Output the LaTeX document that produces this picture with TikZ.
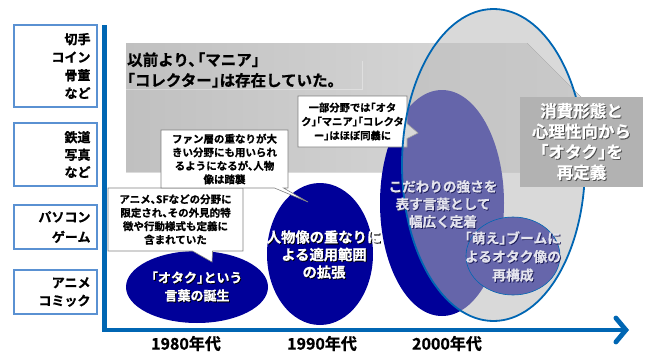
\documentclass[tikz,border=0pt]{standalone}
\usepackage{fontspec}
\setmainfont{Noto Sans CJK JP}[BoldFont={Noto Sans CJK JP Bold}, BoldFeatures={FakeBold=0.8}, RawFeature=+halt]
\usetikzlibrary{shapes.geometric,shapes.callouts,arrows.meta}
\definecolor{axisblue}{RGB}{0,102,179}
\definecolor{boxblue}{RGB}{90,145,210}
\definecolor{navyc}{RGB}{0,0,153}
\definecolor{lav}{RGB}{102,102,171}
\definecolor{ellgray}{RGB}{185,185,185}
\definecolor{bannerL}{RGB}{192,192,192}
\definecolor{bannerR}{RGB}{222,222,222}
\definecolor{boxgray}{RGB}{178,178,178}
\definecolor{palet}{RGB}{228,228,238}
\definecolor{shadenavy}{RGB}{30,30,90}
\newcommand\shtxt[2]{\makebox[0pt][l]{\kern.9pt\raisebox{-.9pt}{\textcolor{#1}{#2}}}#2}
\begin{document}
\begin{tikzpicture}[x=1pt,y=-1pt,
  catbox/.style={draw=boxblue, line width=1.1pt, fill=white, minimum width=83pt, text width=70pt, align=right, inner sep=4pt, font=\bfseries\fontsize{13}{18}\selectfont},
  navyell/.style={ellipse, fill=navyc, inner sep=0pt},
  callbox/.style={rectangle callout, draw=gray, line width=.6pt, fill=white, align=center, inner sep=2pt, font=\bfseries\fontsize{10.5}{13.5}\selectfont},
  wtext/.style={align=center, inner sep=0pt, text=white},
  year/.style={font=\bfseries\fontsize{16}{18}\selectfont, inner sep=0pt}
]
\useasboundingbox (0,0) rectangle (651,356);
% category boxes
\node[catbox, minimum height=82pt] (c1) at (55.5,66) {切手\\コイン\\骨董\\など};
\node[catbox, minimum height=63pt, font=\bfseries\fontsize{13}{17.5}\selectfont] (c2) at (55.5,154.5) {鉄道\\写真\\など};
\node[catbox, minimum height=44pt, font=\bfseries\fontsize{13}{20}\selectfont] (c3) at (55.5,227) {パソコン\\ゲーム};
\node[catbox, minimum height=44pt] (c4) at (55.5,292) {アニメ\\コミック};
% banner
\fill[left color=bannerL, right color=bannerR] (126,43) -- (527,43) -- (591,107) -- (527,172) -- (126,172) -- cycle;
\draw[white, opacity=.35, line width=.6pt] (126,89) -- (362,89) -- (362,61);
\node[anchor=west, align=left, inner sep=0pt, font=\bfseries\fontsize{15.5}{20.5}\selectfont] (title) at (127,70) {以前より、\kern1.5pt「マニア」\\「コレクター」は存在していた。};
% navy ellipses
\node[navyell, minimum width=142pt, minimum height=72pt] (e80) at (197,287) {};
\node[navyell, minimum width=106pt, minimum height=142pt] (e90) at (320,254) {};
\node[navyell, minimum width=124pt, minimum height=226pt] (e00) at (442,203) {};
% callouts
\node[callbox, minimum width=135pt, minimum height=63pt, callout absolute pointer={(212,262)}, callout pointer width=20pt] (co1) at (175.5,219.5) {アニメ、SFなどの分野に\\限定され、その外見的特\\徴や行動様式も定義に\\含まれていた};
\node[callbox, minimum width=127pt, minimum height=58pt, callout absolute pointer={(308,202)}, callout pointer width=9pt] (co2) at (224.5,159) {ファン層の重なりが大\\きい分野にも用いられ\\るようになるが、人物\\像は踏襲};
\node[callbox, minimum width=109pt, minimum height=51pt, callout absolute pointer={(418,133)}, callout pointer width=15pt, font=\bfseries\fontsize{10.3}{14}\selectfont] (co3) at (352.5,121.5) {一部分野では「オタ\\ク」「マニア」「コレクタ\\ー」はほぼ同義に};
% big ellipse
\node[ellipse, minimum width=183pt, minimum height=312pt, inner sep=0pt, fill=ellgray, fill opacity=.55, draw=axisblue, line width=1.8pt] (big) at (493.5,165) {};
% small circle
\node[ellipse, minimum width=94pt, minimum height=78pt, inner sep=0pt, fill=lav, draw=axisblue, line width=.6pt] (moe) at (513,256) {};
% right gray box
\node[fill=boxgray, minimum width=123pt, minimum height=90pt, inner sep=0pt, align=center, text=white, font=\bfseries\fontsize{16.5}{20.5}\selectfont] (redef) at (581.5,142) {\shtxt{gray!60!black}{消費形態と}\\\shtxt{gray!60!black}{心理性向から}\\\shtxt{gray!60!black}{「オタク」を}\\\shtxt{gray!60!black}{再定義}};
% ellipse texts
\node[wtext, font=\bfseries\fontsize{13}{18}\selectfont] (t80) at (197,287) {\shtxt{black}{「オタク」という}\\\shtxt{black}{言葉の誕生}};
\node[wtext, font=\bfseries\fontsize{14.3}{17.5}\selectfont] (t90) at (324,255) {\shtxt{black}{人物像の重なりに}\\\shtxt{black}{よる適用範囲}\\\shtxt{black}{の拡張}};
\node[wtext, text=palet, font=\bfseries\fontsize{13.6}{17.5}\selectfont] (t00) at (443,204.5) {\shtxt{shadenavy}{こだわりの強さを}\\\shtxt{shadenavy}{表す言葉として}\\\shtxt{shadenavy}{幅広く定着}};
\node[wtext, text=palet, font=\bfseries\fontsize{13.8}{18.5}\selectfont] (tmoe) at (513,257) {\shtxt{shadenavy}{「萌え」ブームに}\\\shtxt{shadenavy}{よるオタク像の}\\\shtxt{shadenavy}{再構成}};
% axes
\coordinate (ytop) at (104.5,25);
\coordinate (orig) at (104.5,330);
\coordinate (xend) at (629,330);
\draw[axisblue, line width=4.8pt, line join=miter, -{Straight Barb[length=10pt, width=24pt, line cap=round]}] (ytop) -- (orig) -- (xend);
% years
\node[year] (y80) at (186,343.5) {1980年代};
\node[year] (y90) at (322,343.5) {1990年代};
\node[year] (y00) at (447,343.5) {2000年代};
\end{tikzpicture}
\end{document}
